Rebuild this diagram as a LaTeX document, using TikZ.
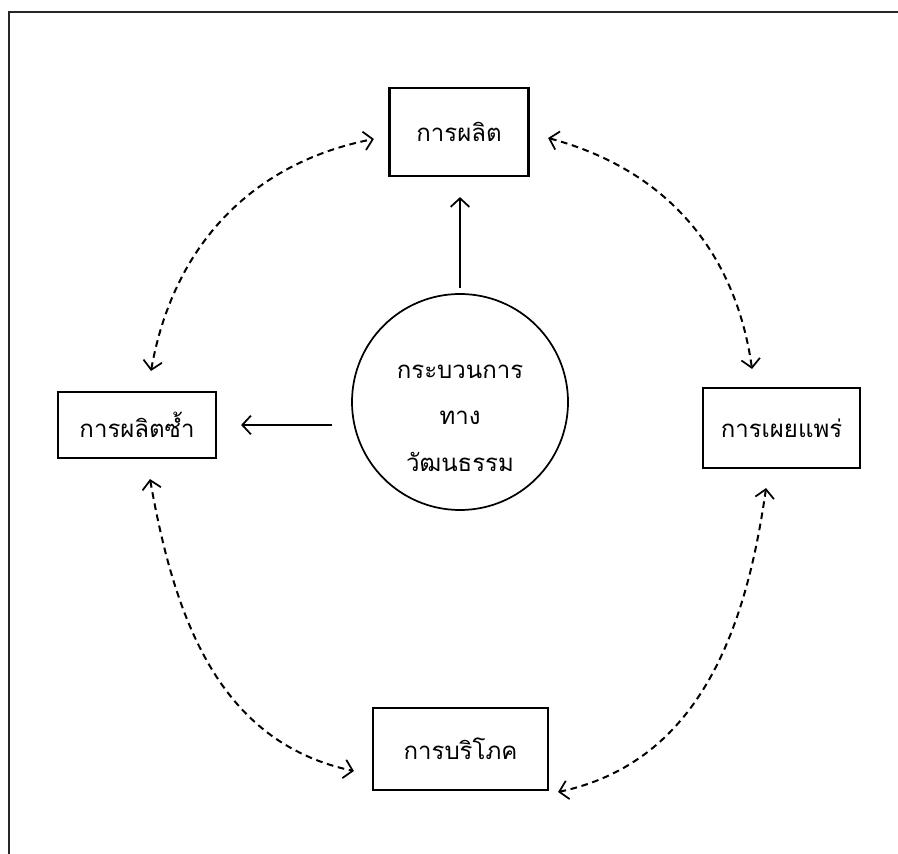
\documentclass[tikz,border=0pt]{standalone}
\usepackage{fontspec}
\newfontfamily\thaifont[Script=Thai]{Loma}
\usetikzlibrary{arrows.meta}
\begin{document}
\begin{tikzpicture}[x=0.75pt,y=0.75pt,
  every node/.style={font=\thaifont\fontsize{18}{24}\selectfont},
  boxnode/.style={draw,line width=1.6pt,inner sep=0pt},
  circnode/.style={draw,circle,line width=1.3pt,minimum size=162pt,inner sep=0pt},
  solidarrow/.style={line width=1.3pt,-{Straight Barb[length=6.5pt,width=14pt,line width=1.3pt]}},
  dasharrow/.style={line width=1.5pt,dash pattern=on 5pt off 3.5pt,
     {Straight Barb[length=6.5pt,width=14pt,line width=1.3pt]}-{Straight Barb[length=6.5pt,width=14pt,line width=1.3pt]}}
]
\useasboundingbox (0,0) rectangle (898,853);
\clip (0,0) rectangle (898,853);
\fill[white] (0,0) rectangle (898,853);
% frame (cut at right and bottom)
\draw[line width=1.8pt,black!85] (9,-40) |- (960,841);

\node[boxnode,minimum width=104.25pt,minimum height=66pt] (top) at (459,721) {การผลิต};
\node[boxnode,minimum width=118.5pt,minimum height=49.5pt] (left) at (137,428) {การผลิตซ้ำ};
\node[boxnode,minimum width=117.75pt,minimum height=60pt] (right) at (781.5,425) {การเผยแพร่};
\node[boxnode,minimum width=131.25pt,minimum height=61.5pt] (bottom) at (460.5,104) {การบริโภค};
\node[circnode] (circ) at (460,451) {};
\node[align=center,font=\thaifont\fontsize{18}{35}\selectfont] (circtext) at ([yshift=-12pt]circ.center) {กระบวนการ\\ทาง\\วัฒนธรรม};

\draw[solidarrow,shorten <=4pt,shorten >=15pt] (circ.north) -- (circ.north |- top.south);
\draw[solidarrow,shorten <=14pt,shorten >=18pt] (left.east -| circ.west) -- (left.east);

\draw[dasharrow] ([xshift=10.5pt,yshift=15pt]left.north) to[out=80,in=191] ([xshift=-10.9pt,yshift=-5.25pt]top.west);
\draw[dasharrow] ([xshift=13.9pt,yshift=-4.5pt]top.east) to[out=-15,in=98] ([xshift=-22.1pt,yshift=13.5pt]right.north);
\draw[dasharrow] ([xshift=9.75pt,yshift=-15pt]left.south) to[out=-80,in=168] ([xshift=-13.5pt,yshift=-16.5pt]bottom.west);
\draw[dasharrow] ([xshift=-11.6pt,yshift=-14.25pt]right.south) to[out=-98,in=12] ([xshift=6.75pt,yshift=-32.25pt]bottom.east);
\end{tikzpicture}
\end{document}
